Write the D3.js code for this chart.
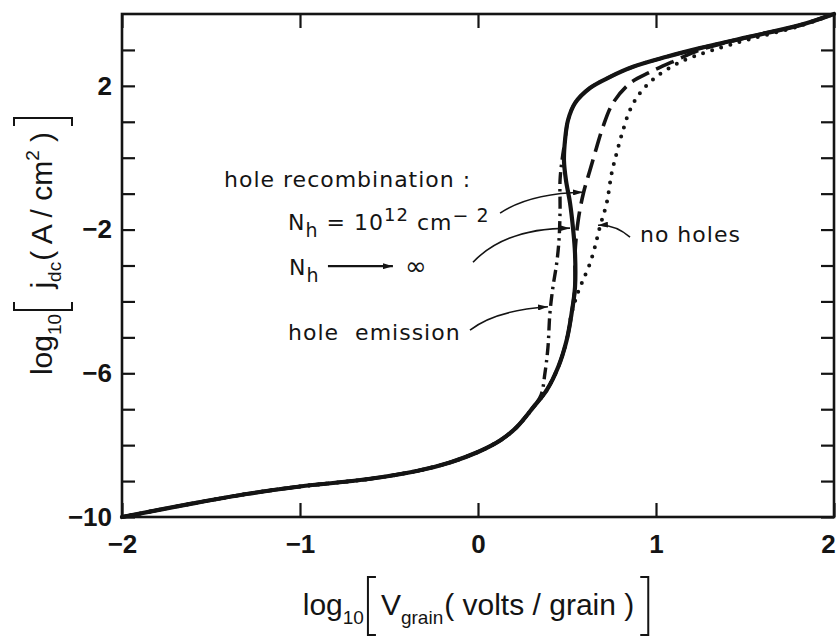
<!DOCTYPE html>
<html>
<head>
<meta charset="utf-8">
<script src="https://cdn.jsdelivr.net/npm/d3@7"></script>
<style>
  body { margin: 0; background: #fff; }
  text { white-space: pre; }
</style>
</head>
<body>
<svg id="chart" width="839" height="639"></svg>
<script>
// ---- data: log10(V_grain) vs log10(j_dc) ----
// common branch (also the hole-recombination N_h -> infinity curve)
const solidX = [-2, -1.6, -1.3, -1.0, -0.625, -0.344, -0.157, 0.0, 0.124, 0.217, 0.311, 0.386, 0.451, 0.498, 0.526, 0.545, 0.545, 0.535, 0.517, 0.494, 0.483, 0.489, 0.506, 0.545, 0.629, 0.742, 0.871, 1.06, 1.247, 1.528, 1.809, 2];
const solidY = [-10, -9.62, -9.36, -9.15, -8.95, -8.72, -8.48, -8.19, -7.87, -7.50, -6.94, -6.47, -5.82, -5.08, -4.33, -3.60, -2.66, -2.02, -1.26, -0.62, -0.07, 0.49, 1.05, 1.52, 1.94, 2.25, 2.53, 2.81, 3.05, 3.37, 3.69, 4];

// hole recombination, N_h = 1e12 cm^-2 (long dashes)
const dashedX = [-2, -1.6, -1.3, -1.0, -0.625, -0.344, -0.157, 0.0, 0.124, 0.217, 0.311, 0.386, 0.451, 0.498, 0.526, 0.545, 0.545, 0.563, 0.592, 0.629, 0.667, 0.702, 0.758, 0.854, 0.966, 1.116, 1.247, 1.528, 1.809, 2];
const dashedY = [-10, -9.62, -9.36, -9.15, -8.95, -8.72, -8.48, -8.19, -7.87, -7.50, -6.94, -6.47, -5.82, -5.08, -4.33, -3.60, -2.66, -1.74, -0.99, -0.35, 0.30, 0.86, 1.52, 2.07, 2.38, 2.72, 3.00, 3.37, 3.69, 4];

// no holes (dotted)
const dottedX = [-2, -1.6, -1.3, -1.0, -0.625, -0.344, -0.157, 0.0, 0.124, 0.217, 0.311, 0.386, 0.451, 0.498, 0.526, 0.562, 0.590, 0.629, 0.657, 0.685, 0.723, 0.751, 0.779, 0.815, 0.854, 0.910, 0.994, 1.135, 1.303, 1.528, 1.809, 2];
const dottedY = [-10, -9.62, -9.36, -9.15, -8.95, -8.72, -8.48, -8.19, -7.87, -7.50, -6.94, -6.47, -5.82, -5.08, -4.33, -3.74, -3.41, -2.94, -2.48, -1.92, -1.26, -0.43, 0.13, 0.77, 1.33, 1.80, 2.22, 2.66, 2.97, 3.30, 3.67, 4];

// hole emission (dash-dot)
const dashDotX = [-2, -1.6, -1.3, -1.0, -0.625, -0.344, -0.157, 0.0, 0.124, 0.217, 0.311, 0.354, 0.376, 0.393, 0.404, 0.421, 0.442, 0.455, 0.461, 0.461, 0.472, 0.489, 0.506, 0.545, 0.629, 0.742, 0.871, 1.06, 1.247, 1.528, 1.809, 2];
const dashDotY = [-10, -9.62, -9.36, -9.15, -8.95, -8.72, -8.48, -8.19, -7.87, -7.50, -6.94, -6.61, -6.00, -5.28, -4.33, -3.60, -2.94, -2.30, -1.46, -0.62, -0.07, 0.49, 1.05, 1.52, 1.94, 2.25, 2.53, 2.81, 3.05, 3.37, 3.69, 4];

// axis ticks
const xTickValues = [-2, -1, 0, 1, 2];
const xTickLabels = ["\u22122", "\u22121", "0", "1", "2"];
const yTickValues = [-10, -9, -8, -7, -6, -5, -4, -3, -2, -1, 0, 1, 2, 3];
const yLabelled = [2, -2, -6, -10];

// ---- layout ----
const W = 839, H = 639;
const margin = { top: 14, right: 5, bottom: 122, left: 122 };
const ink = "#141414";
const svg = d3.select("#chart");

const x = d3.scaleLinear().domain([-2, 2]).range([margin.left, W - margin.right]);
const y = d3.scaleLinear().domain([-10, 4]).range([H - margin.bottom, margin.top]);

const zip = (xs, ys) => xs.map((v, i) => [v, ys[i]]);
const line = d3.line().x(d => x(d[0])).y(d => y(d[1])).curve(d3.curveCatmullRom.alpha(0.5));

// ---- curves ----
const series = [
  { pts: zip(dottedX, dottedY), width: 4, dash: "0,9.5", cap: "round" },
  { pts: zip(dashedX, dashedY), width: 3.6, dash: "19,8", cap: "butt" },
  { pts: zip(dashDotX, dashDotY), width: 3.4, dash: "12,5,2.5,5", cap: "butt" },
  { pts: zip(solidX, solidY), width: 4.2, dash: null, cap: "round" }
];
svg.append("g").selectAll("path").data(series).join("path")
  .attr("d", d => line(d.pts))
  .attr("fill", "none")
  .attr("stroke", ink)
  .attr("stroke-width", d => d.width)
  .attr("stroke-linecap", d => d.cap)
  .attr("stroke-linejoin", "round")
  .attr("stroke-dasharray", d => d.dash);

// ---- axes (inward ticks, full frame) ----
const tickFont = "'Liberation Sans', Arial, sans-serif";
function styleAxis(g) {
  g.select(".domain").remove();
  g.selectAll(".tick line").attr("stroke", ink).attr("stroke-width", 2.2);
  g.selectAll(".tick text").attr("fill", ink).style("font-family", tickFont)
    .style("font-size", "26px").style("font-weight", "bold");
}
const xAxisBottom = svg.append("g").attr("transform", `translate(0,${y(-10)})`)
  .call(d3.axisBottom(x).tickValues(xTickValues).tickSize(-14).tickPadding(18)
    .tickFormat((d, i) => xTickLabels[i]))
  .call(styleAxis);
// keep the rightmost label inside the canvas
xAxisBottom.selectAll(".tick text").filter(d => d === 2).attr("dx", -6);

svg.append("g").attr("transform", `translate(0,${y(4)})`)
  .call(d3.axisTop(x).tickValues(xTickValues).tickSize(-14).tickFormat(""))
  .call(styleAxis);
svg.append("g").attr("transform", `translate(${x(-2)},0)`)
  .call(d3.axisLeft(y).tickValues(yTickValues).tickSize(-13).tickPadding(10)
    .tickFormat(d => yLabelled.includes(d) ? (d < 0 ? "\u2212" + Math.abs(d) : String(d)) : ""))
  .call(styleAxis);
svg.append("g").attr("transform", `translate(${x(2)},0)`)
  .call(d3.axisRight(y).tickValues(yTickValues).tickSize(-13).tickFormat(""))
  .call(styleAxis);

svg.append("rect")
  .attr("x", x(-2)).attr("y", y(4))
  .attr("width", x(2) - x(-2)).attr("height", y(-10) - y(4))
  .attr("fill", "none").attr("stroke", ink).attr("stroke-width", 2.6);

// ---- axis titles with subscripts and tall brackets ----
const titleFont = "'Liberation Sans', Arial, sans-serif";
function buildTitle(g, items, baseSize, subSize) {
  let cx = 0;
  items.forEach(it => {
    if (it.br) {
      const top = -38, bot = 20, s = 8;
      const x0 = cx + (it.br === "[" ? 2 : 4);
      const p = it.br === "["
        ? `M${x0 + s},${top}H${x0}V${bot}H${x0 + s}`
        : `M${x0},${top}H${x0 + s}V${bot}H${x0}`;
      g.append("path").attr("d", p).attr("fill", "none").attr("stroke", ink).attr("stroke-width", 2);
      cx += s + 7;
    } else {
      const t = g.append("text").attr("x", cx).attr("y", it.shift || 0)
        .attr("fill", ink).style("font-family", titleFont)
        .style("font-size", (it.small ? subSize : baseSize) + "px")
        .text(it.t);
      cx += t.node().getComputedTextLength() + (it.gap || 0);
    }
  });
  return cx;
}

const xTitle = svg.append("g");
const xw = buildTitle(xTitle, [
  { t: "log" }, { t: "10", small: true, shift: 9, gap: 2 },
  { br: "[" },
  { t: "V" }, { t: "grain", small: true, shift: 9, gap: 1 },
  { t: "( volts / grain )", gap: 2 },
  { br: "]" }
], 30, 19);
xTitle.attr("transform", `translate(${477 - xw / 2},615)`);

const yTitle = svg.append("g");
const yw = buildTitle(yTitle, [
  { t: "log" }, { t: "10", small: true, shift: 9, gap: 2 },
  { br: "[" },
  { t: " j" }, { t: "dc", small: true, shift: 9, gap: 1 },
  { t: "( A / cm" }, { t: "2", small: true, shift: -13 },
  { t: " )", gap: 2 },
  { br: "]" }
], 30, 19);
yTitle.attr("transform", `translate(52,${245 + yw / 2}) rotate(-90)`);

// ---- annotations ----
const noteFont = "'DejaVu Sans', sans-serif";
const notes = svg.append("g").attr("fill", ink)
  .style("font-family", noteFont).style("font-size", "22px").style("letter-spacing", "1px");

svg.append("defs").append("marker")
  .attr("id", "head").attr("viewBox", "0 0 10 6")
  .attr("refX", 10).attr("refY", 3)
  .attr("markerWidth", 10).attr("markerHeight", 6)
  .attr("markerUnits", "userSpaceOnUse").attr("orient", "auto")
  .append("path").attr("d", "M0,0L10,3L0,6Z").attr("fill", ink);

notes.append("text").attr("x", x(-1.427)).attr("y", y(-0.82)).text("hole recombination :");

const t1 = notes.append("text").attr("x", x(-1.067)).attr("y", y(-2.02));
t1.append("tspan").text("N");
t1.append("tspan").attr("dy", 7).style("font-size", "19px").text("h");
t1.append("tspan").attr("dy", -7).text(" = 10");
t1.append("tspan").attr("dy", -9).style("font-size", "18px").text("12");
t1.append("tspan").attr("dy", 9).text(" cm");
t1.append("tspan").attr("dy", -8).style("font-size", "19px").text("\u2212 2");

const t2 = notes.append("text").attr("x", x(-1.062)).attr("y", y(-3.27));
t2.append("tspan").text("N");
t2.append("tspan").attr("dy", 7).style("font-size", "19px").text("h");
notes.append("line")
  .attr("x1", x(-0.843)).attr("x2", x(-0.478))
  .attr("y1", y(-3.02)).attr("y2", y(-3.02))
  .attr("stroke", ink).attr("stroke-width", 2.2).attr("marker-end", "url(#head)");
notes.append("text").attr("x", x(-0.410)).attr("y", y(-3.27)).style("font-size", "26px").text("\u221E");

notes.append("text").attr("x", x(-1.067)).attr("y", y(-5.08)).text("hole  emission");
notes.append("text").attr("x", x(0.91)).attr("y", y(-2.35)).text("no holes");

// leader arrows: [start, control, end] in data coordinates
const leaders = [
  [[0.124, -1.54], [0.292, -0.99], [0.590, -0.96]],
  [[-0.028, -2.91], [0.152, -1.96], [0.517, -1.96]],
  [[-0.045, -4.80], [0.096, -4.25], [0.393, -4.15]],
  [[0.854, -2.21], [0.770, -1.85], [0.674, -1.88]]
];
svg.append("g").selectAll("path").data(leaders).join("path")
  .attr("d", d => {
    const p = d3.path();
    p.moveTo(x(d[0][0]), y(d[0][1]));
    p.quadraticCurveTo(x(d[1][0]), y(d[1][1]), x(d[2][0]), y(d[2][1]));
    return p.toString();
  })
  .attr("fill", "none").attr("stroke", ink).attr("stroke-width", 1.6)
  .attr("marker-end", "url(#head)");
</script>
</body>
</html>
